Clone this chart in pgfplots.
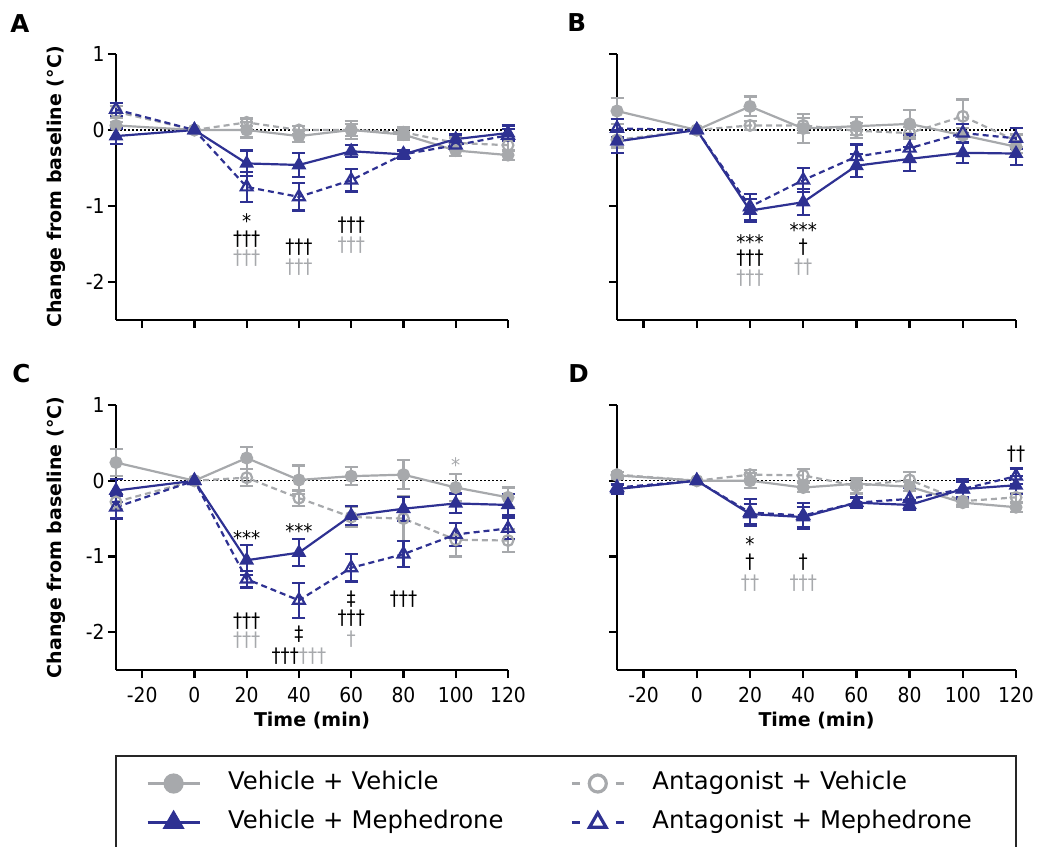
\documentclass[border=0pt]{standalone}
\usepackage{pgfplots}
\pgfplotsset{compat=1.18}
\usepackage{pgfplotstable}
\usepackage{fontspec}
\setmainfont{DejaVu Sans}
\newfontfamily\tickfont[FakeStretch=0.91]{DejaVu Sans}
\definecolor{cgray}{RGB}{167,169,172}
\definecolor{cblue}{RGB}{46,49,146}
\newcommand\stars[1]{\raisebox{0pt}[\height][-0.3em]{#1}}

% ---------- Panel A ----------
\pgfplotstableread[row sep=\\]{x y e\\ -30 0.06 0.05\\ 0 0 0\\ 20 0.00 0.10\\ 40 -0.08 0.08\\ 60 0.00 0.12\\ 80 -0.06 0.07\\ 100 -0.27 0.07\\ 120 -0.33 0.06\\}\AVV
\pgfplotstableread[row sep=\\]{x y e\\ -30 0.24 0.08\\ 0 0 0\\ 20 0.10 0.05\\ 40 0.00 0.05\\ 60 0.00 0.08\\ 80 -0.03 0.07\\ 100 -0.17 0.07\\ 120 -0.20 0.06\\}\AAV
\pgfplotstableread[row sep=\\]{x y e\\ -30 -0.08 0.10\\ 0 0 0\\ 20 -0.44 0.17\\ 40 -0.46 0.16\\ 60 -0.28 0.08\\ 80 -0.32 0.06\\ 100 -0.12 0.06\\ 120 -0.04 0.10\\}\AVM
\pgfplotstableread[row sep=\\]{x y e\\ -30 0.27 0.09\\ 0 0 0\\ 20 -0.75 0.20\\ 40 -0.88 0.18\\ 60 -0.66 0.15\\ 80 -0.32 0.05\\ 100 -0.20 0.06\\ 120 -0.07 0.08\\}\AAM
% ---------- Panel B ----------
\pgfplotstableread[row sep=\\]{x y e\\ -30 0.25 0.17\\ 0 0 0\\ 20 0.31 0.13\\ 40 0.02 0.19\\ 60 0.05 0.12\\ 80 0.08 0.18\\ 100 -0.07 0.10\\ 120 -0.22 0.08\\}\BVV
\pgfplotstableread[row sep=\\]{x y e\\ -30 -0.13 0.10\\ 0 0 0\\ 20 0.06 0.06\\ 40 0.06 0.10\\ 60 -0.01 0.10\\ 80 -0.04 0.08\\ 100 0.18 0.22\\ 120 -0.14 0.08\\}\BAV
\pgfplotstableread[row sep=\\]{x y e\\ -30 -0.15 0.15\\ 0 0 0\\ 20 -1.06 0.15\\ 40 -0.95 0.17\\ 60 -0.47 0.15\\ 80 -0.38 0.16\\ 100 -0.30 0.13\\ 120 -0.31 0.15\\}\BVM
\pgfplotstableread[row sep=\\]{x y e\\ -30 0.02 0.12\\ 0 0 0\\ 20 -1.01 0.17\\ 40 -0.66 0.16\\ 60 -0.35 0.16\\ 80 -0.24 0.18\\ 100 -0.04 0.12\\ 120 -0.11 0.14\\}\BAM
% ---------- Panel C ----------
\pgfplotstableread[row sep=\\]{x y e\\ -30 0.24 0.18\\ 0 0 0\\ 20 0.30 0.15\\ 40 0.01 0.19\\ 60 0.06 0.12\\ 80 0.08 0.19\\ 100 -0.09 0.18\\ 120 -0.22 0.13\\}\CVV
\pgfplotstableread[row sep=\\]{x y e\\ -30 -0.28 0.10\\ 0 0 0\\ 20 0.04 0.11\\ 40 -0.23 0.10\\ 60 -0.48 0.13\\ 80 -0.50 0.30\\ 100 -0.78 0.22\\ 120 -0.79 0.15\\}\CAV
\pgfplotstableread[row sep=\\]{x y e\\ -30 -0.13 0.15\\ 0 0 0\\ 20 -1.05 0.20\\ 40 -0.95 0.18\\ 60 -0.46 0.13\\ 80 -0.37 0.16\\ 100 -0.30 0.13\\ 120 -0.32 0.14\\}\CVM
\pgfplotstableread[row sep=\\]{x y e\\ -30 -0.35 0.15\\ 0 0 0\\ 20 -1.30 0.11\\ 40 -1.58 0.23\\ 60 -1.15 0.18\\ 80 -0.97 0.17\\ 100 -0.71 0.15\\ 120 -0.63 0.14\\}\CAM
% ---------- Panel D ----------
\pgfplotstableread[row sep=\\]{x y e\\ -30 0.07 0.04\\ 0 0 0\\ 20 0.00 0.10\\ 40 -0.09 0.06\\ 60 -0.04 0.06\\ 80 -0.08 0.06\\ 100 -0.29 0.05\\ 120 -0.35 0.06\\}\DVV
\pgfplotstableread[row sep=\\]{x y e\\ -30 0.08 0.04\\ 0 0 0\\ 20 0.08 0.06\\ 40 0.07 0.08\\ 60 -0.07 0.10\\ 80 0.01 0.10\\ 100 -0.27 0.05\\ 120 -0.22 0.06\\}\DAV
\pgfplotstableread[row sep=\\]{x y e\\ -30 -0.11 0.06\\ 0 0 0\\ 20 -0.44 0.13\\ 40 -0.48 0.13\\ 60 -0.29 0.07\\ 80 -0.32 0.06\\ 100 -0.11 0.13\\ 120 -0.06 0.12\\}\DVM
\pgfplotstableread[row sep=\\]{x y e\\ -30 -0.09 0.05\\ 0 0 0\\ 20 -0.42 0.18\\ 40 -0.46 0.17\\ 60 -0.29 0.06\\ 80 -0.24 0.15\\ 100 -0.11 0.10\\ 120 0.06 0.10\\}\DAM

\pgfplotsset{
  panel/.style={
    scale only axis,
    xmin=-30, xmax=120, ymin=-2.5, ymax=1,
    axis lines=left,
    axis line style={-, line width=1.15pt, black},
    tick align=outside,
    major tick length=4pt,
    tick style={line width=1.15pt, black},
    xtick={-20,0,20,40,60,80,100,120},
    ytick={-2,-1,0,1},
    clip=false,
    ticklabel style={font=\tickfont\fontsize{10.3}{12}\selectfont},
    yticklabel style={anchor=east, inner sep=0pt, xshift=-1.5pt},
    xticklabel style={anchor=north, inner sep=0pt, yshift=-4.5pt},
    label style={font=\bfseries\fontsize{9.5}{11}\selectfont},
  },
  nox/.style={xticklabels={,,}},
  noy/.style={yticklabels={,,}},
  withx/.style={xticklabels={-20,0,20,40,60,80,100,120},
    xlabel={Time (min)},
    xlabel style={at={(axis description cs:0.5,-0.215)}, anchor=base}},
  withy/.style={yticklabels={-2,-1,0,1},
    ylabel={Change from baseline (°C)},
    ylabel style={at={(axis description cs:-0.153,0.5)}, anchor=center}},
  err/.style={
    /pgfplots/error bars/y dir=both,
    /pgfplots/error bars/y explicit,
    /pgfplots/error bars/error bar style={line width=1.1pt, solid},
    /pgfplots/error bars/error mark options={rotate=90, mark size=3.25pt, line width=1.1pt, solid}},
  vv/.style={cgray, line width=1.1pt, solid, mark=*, mark size=2.7pt, mark options={solid, fill=cgray, draw=cgray}},
  av/.style={cgray, line width=1.1pt, dash pattern=on 3pt off 2pt, mark=o, mark size=2.7pt, mark options={solid, fill=white, draw=cgray}},
  vm/.style={cblue, line width=1.1pt, solid, mark=triangle*, mark size=3.2pt, mark options={solid, fill=cblue}},
  am/.style={cblue, line width=1.1pt, dash pattern=on 3pt off 2pt, mark=triangle, mark size=3.4pt, mark options={solid, fill=white}},
  zeroline/.style={forget plot, black, line width=0.6pt, dash pattern=on 0.8pt off 1.2pt, mark=none},
}
\tikzset{
  ann/.style={font=\tickfont\fontsize{10}{12}\selectfont, inner sep=0pt, text=black},
  gann/.style={ann, text=cgray},
  letter/.style={font=\bfseries\fontsize{12.3}{14}\selectfont, anchor=base west, inner sep=0pt},
}

\begin{document}
\begin{tikzpicture}
\path[use as bounding box] (0,0) rectangle (519pt,423pt);

% ===== A =====
\begin{axis}[panel, nox, withy, at={(58pt,263pt)}, anchor=south west, width=196pt, height=133pt]
\addplot[zeroline] coordinates {(-30,0) (120,0)};
\addplot[vv, err] table[x=x, y=y, y error=e] {\AVV};
\addplot[av, err] table[x=x, y=y, y error=e] {\AAV};
\addplot[vm, err] table[x=x, y=y, y error=e] {\AVM};
\addplot[am, err] table[x=x, y=y, y error=e] {\AAM};
\node[ann, anchor=north] at (axis cs:20,-1.10) {\stars{*}};
\node[ann] at (axis cs:20,-1.43) {†††};
\node[gann] at (axis cs:20,-1.69) {†††};
\node[ann] at (axis cs:40,-1.54) {†††};
\node[gann] at (axis cs:40,-1.80) {†††};
\node[ann] at (axis cs:60,-1.25) {†††};
\node[gann] at (axis cs:60,-1.51) {†††};
\end{axis}

% ===== B =====
\begin{axis}[panel, nox, noy, at={(308.5pt,263pt)}, anchor=south west, width=199.5pt, height=133pt]
\addplot[zeroline] coordinates {(-30,0) (120,0)};
\addplot[vv, err] table[x=x, y=y, y error=e] {\BVV};
\addplot[av, err] table[x=x, y=y, y error=e] {\BAV};
\addplot[vm, err] table[x=x, y=y, y error=e] {\BVM};
\addplot[am, err] table[x=x, y=y, y error=e] {\BAM};
\node[ann, anchor=north] at (axis cs:20,-1.375) {\stars{***}};
\node[ann] at (axis cs:20,-1.69) {†††};
\node[gann] at (axis cs:20,-1.95) {†††};
\node[ann, anchor=north] at (axis cs:40,-1.22) {\stars{***}};
\node[ann] at (axis cs:40,-1.54) {†};
\node[gann] at (axis cs:40,-1.80) {††};
\end{axis}

% ===== C =====
\begin{axis}[panel, withx, withy, at={(58pt,88pt)}, anchor=south west, width=196pt, height=132.5pt,
  legend columns=2,
  legend image code/.code={\draw[mark repeat=2, mark phase=2, #1] plot coordinates {(0pt,0pt) (13pt,0pt) (26pt,0pt)};},
  legend style={at={(axis description cs:-0.0026,-0.3208)}, anchor=north west,
    draw=black!85, line width=1pt, inner xsep=15pt, inner ysep=4pt,
    font=\fontsize{12.15}{14}\selectfont,
    cells={anchor=west},
    nodes={inner sep=0pt, text height=12.5pt, text depth=7pt, text width=167pt},
    /tikz/every odd column/.style={column sep=13.5pt},
    /tikz/every even column/.style={column sep=4pt}},
]
\addlegendimage{cgray, line width=1.6pt, solid, mark=*, mark size=4.25pt, mark options={solid, fill=cgray, draw=cgray}}
\addlegendentry{Vehicle + Vehicle}
\addlegendimage{cgray, line width=1.6pt, dash pattern=on 4pt off 18pt, mark=o, mark size=4.25pt, mark options={solid, fill=white, draw=cgray, line width=1.6pt}}
\addlegendentry{Antagonist + Vehicle}
\addlegendimage{cblue, line width=1.6pt, solid, mark=triangle*, mark size=4.8pt, mark options={solid, fill=cblue}}
\addlegendentry{Vehicle + Mephedrone}
\addlegendimage{cblue, line width=1.6pt, dash pattern=on 4pt off 18pt, mark=triangle, mark size=4.8pt, mark options={solid, fill=white, line width=1.6pt}}
\addlegendentry{Antagonist + Mephedrone}
\addplot[zeroline] coordinates {(-30,0) (120,0)};
\addplot[vv, err, forget plot] table[x=x, y=y, y error=e] {\CVV};
\addplot[av, err, forget plot] table[x=x, y=y, y error=e] {\CAV};
\addplot[vm, err, forget plot] table[x=x, y=y, y error=e] {\CVM};
\addplot[am, err, forget plot] table[x=x, y=y, y error=e] {\CAM};
\node[ann, anchor=north] at (axis cs:20,-0.65) {\stars{***}};
\node[ann] at (axis cs:20,-1.86) {†††};
\node[gann] at (axis cs:20,-2.11) {†††};
\node[ann, anchor=north] at (axis cs:40,-0.557) {\stars{***}};
\node[ann] at (axis cs:40,-2.03) {‡};
\node[ann] at (axis cs:40,-2.32) {†††\textcolor{cgray}{†††}};
\node[ann] at (axis cs:60,-1.56) {‡};
\node[ann] at (axis cs:60,-1.82) {†††};
\node[gann] at (axis cs:60,-2.09) {†};
\node[ann] at (axis cs:80,-1.56) {†††};
\node[gann, anchor=north] at (axis cs:100,0.307) {\stars{*}};
\end{axis}

% ===== D =====
\begin{axis}[panel, withx, noy, at={(308.5pt,88pt)}, anchor=south west, width=199.5pt, height=132.5pt]
\addplot[zeroline] coordinates {(-30,0) (120,0)};
\addplot[vv, err] table[x=x, y=y, y error=e] {\DVV};
\addplot[av, err] table[x=x, y=y, y error=e] {\DAV};
\addplot[vm, err] table[x=x, y=y, y error=e] {\DVM};
\addplot[am, err] table[x=x, y=y, y error=e] {\DAM};
\node[ann, anchor=north] at (axis cs:20,-0.74) {\stars{*}};
\node[ann] at (axis cs:20,-1.07) {†};
\node[gann] at (axis cs:20,-1.35) {††};
\node[ann] at (axis cs:40,-1.07) {†};
\node[gann] at (axis cs:40,-1.35) {†††};
\node[ann] at (axis cs:120,0.35) {††};
\end{axis}

\node[letter] at (5pt,406.5pt) {A};
\node[letter] at (283.5pt,407pt) {B};
\node[letter] at (6pt,231.5pt) {C};
\node[letter] at (284pt,231.5pt) {D};
\end{tikzpicture}
\end{document}
